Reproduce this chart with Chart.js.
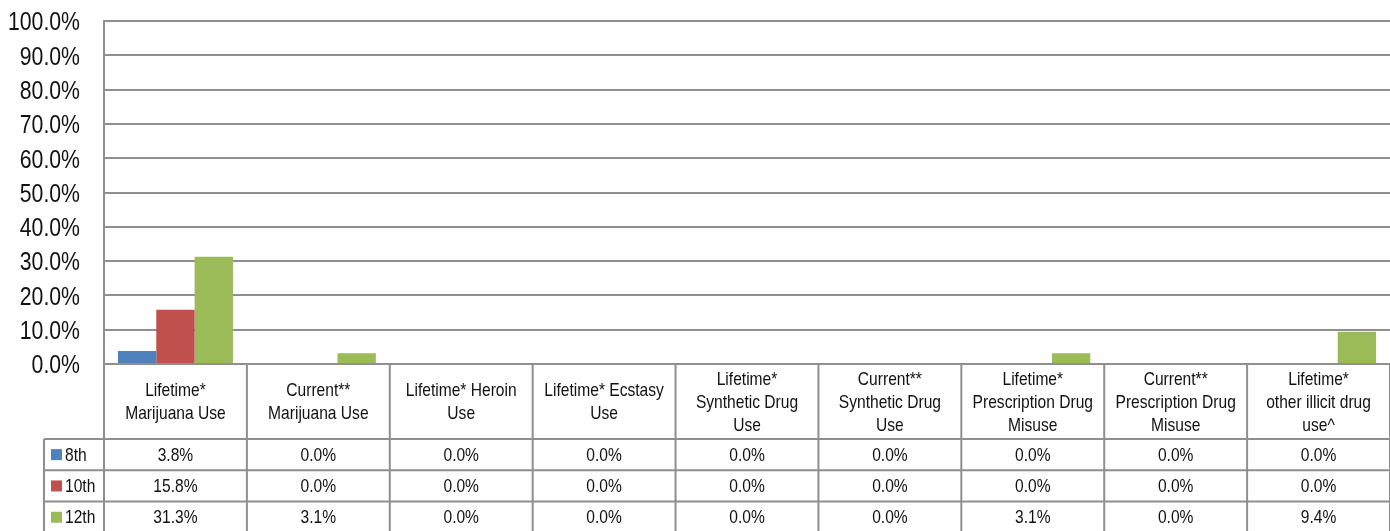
<!DOCTYPE html>
<html>
<head>
<meta charset="utf-8">
<script src="https://cdn.jsdelivr.net/npm/chart.js@4"></script>
<style>
  html, body { margin: 0; padding: 0; background: #fff; }
  #wrap { width: 1390px; height: 531px; }
</style>
</head>
<body>
<div id="wrap"><canvas id="drugChart" width="1390" height="531"></canvas></div>
<script>
// categories (header lines as shown in the table)
const categories = [
  ['Lifetime*', 'Marijuana Use'],
  ['Current**', 'Marijuana Use'],
  ['Lifetime* Heroin', 'Use'],
  ['Lifetime* Ecstasy', 'Use'],
  ['Lifetime*', 'Synthetic Drug', 'Use'],
  ['Current**', 'Synthetic Drug', 'Use'],
  ['Lifetime*', 'Prescription Drug', 'Misuse'],
  ['Current**', 'Prescription Drug', 'Misuse'],
  ['Lifetime*', 'other illicit drug', 'use^']
];
const grades = ['8th', '10th', '12th'];
const grade8 = [3.8, 0, 0, 0, 0, 0, 0, 0, 0];
const grade10 = [15.8, 0, 0, 0, 0, 0, 0, 0, 0];
const grade12 = [31.3, 3.1, 0, 0, 0, 0, 3.1, 0, 9.4];
const yTicks = [0, 10, 20, 30, 40, 50, 60, 70, 80, 90, 100];

const colors = ['#4F81BD', '#C0504D', '#9BBB59'];
const FONT = '"Liberation Sans", Arial, sans-serif';
const LINE = '#8f8f8f';

// the original text is horizontally condensed
function narrowText(ctx, text, x, y, align, squeeze) {
  ctx.save();
  ctx.translate(x, y);
  ctx.scale(squeeze || 0.82, 1);
  ctx.textAlign = align;
  ctx.fillText(text, 0, 0);
  ctx.restore();
}

// y tick labels + data table under the plot, drawn from the same arrays
const dataTable = {
  id: 'dataTable',
  afterDraw(chart) {
    const ctx = chart.ctx;
    const area = chart.chartArea;
    const yScale = chart.scales.y;
    const n = categories.length;
    const colW = (area.right - area.left) / n;
    const top = area.bottom;
    const headH = 75;
    const rowH = 31.3;
    const leftEdge = 44;
    const bottom = top + headH + rowH * 3 + 2;

    ctx.save();
    ctx.textBaseline = 'middle';
    ctx.fillStyle = '#111';
    ctx.font = '25px ' + FONT;
    yScale.ticks.forEach(t => {
      narrowText(ctx, t.value.toFixed(1) + '%', 80, yScale.getPixelForValue(t.value) + 2.5, 'right', 0.85);
    });

    ctx.strokeStyle = LINE;
    ctx.lineWidth = 2;
    ctx.beginPath();
    for (let i = 0; i <= n; i++) {
      const x = area.left + colW * i;
      ctx.moveTo(x, top);
      ctx.lineTo(x, bottom);
    }
    ctx.moveTo(leftEdge, top + headH);
    ctx.lineTo(leftEdge, bottom);
    for (let r = 0; r <= 3; r++) {
      const y = top + headH + rowH * r;
      ctx.moveTo(leftEdge, y);
      ctx.lineTo(area.right, y);
    }
    ctx.stroke();

    ctx.font = '19px ' + FONT;
    categories.forEach((lines, i) => {
      const cx = area.left + colW * (i + 0.5);
      const cy = top + headH / 2 + 1;
      const lh = 23;
      lines.forEach((t, j) => {
        narrowText(ctx, t, cx, cy + (j - (lines.length - 1) / 2) * lh, 'center');
      });
    });
    chart.data.datasets.forEach((ds, r) => {
      const cy = top + headH + rowH * (r + 0.5);
      ctx.fillStyle = ds.backgroundColor;
      ctx.fillRect(51, cy - 5.5, 11, 11);
      ctx.fillStyle = '#111';
      narrowText(ctx, ds.label, 65, cy + 1, 'left');
      ds.data.forEach((v, i) => {
        narrowText(ctx, v.toFixed(1) + '%', area.left + colW * (i + 0.5), cy + 1, 'center');
      });
    });
    ctx.restore();
  }
};

new Chart(document.getElementById('drugChart'), {
  type: 'bar',
  data: {
    labels: categories,
    datasets: [
      { label: grades[0], data: grade8, backgroundColor: colors[0] },
      { label: grades[1], data: grade10, backgroundColor: colors[1] },
      { label: grades[2], data: grade12, backgroundColor: colors[2] }
    ]
  },
  options: {
    responsive: false,
    animation: false,
    layout: { padding: { top: 21, bottom: 167, right: 0, left: 0 } },
    datasets: { bar: { categoryPercentage: 0.805, barPercentage: 1 } },
    plugins: { legend: { display: false }, tooltip: { enabled: false } },
    scales: {
      x: { display: false },
      y: {
        min: 0,
        max: 100,
        afterBuildTicks(scale) { scale.ticks = yTicks.map(v => ({ value: v })); },
        afterFit(scale) { scale.width = 104; },
        border: { display: true, color: LINE, width: 2 },
        grid: { color: LINE, lineWidth: 2, drawTicks: false },
        ticks: { display: false }
      }
    }
  },
  plugins: [dataTable]
});
</script>
</body>
</html>
